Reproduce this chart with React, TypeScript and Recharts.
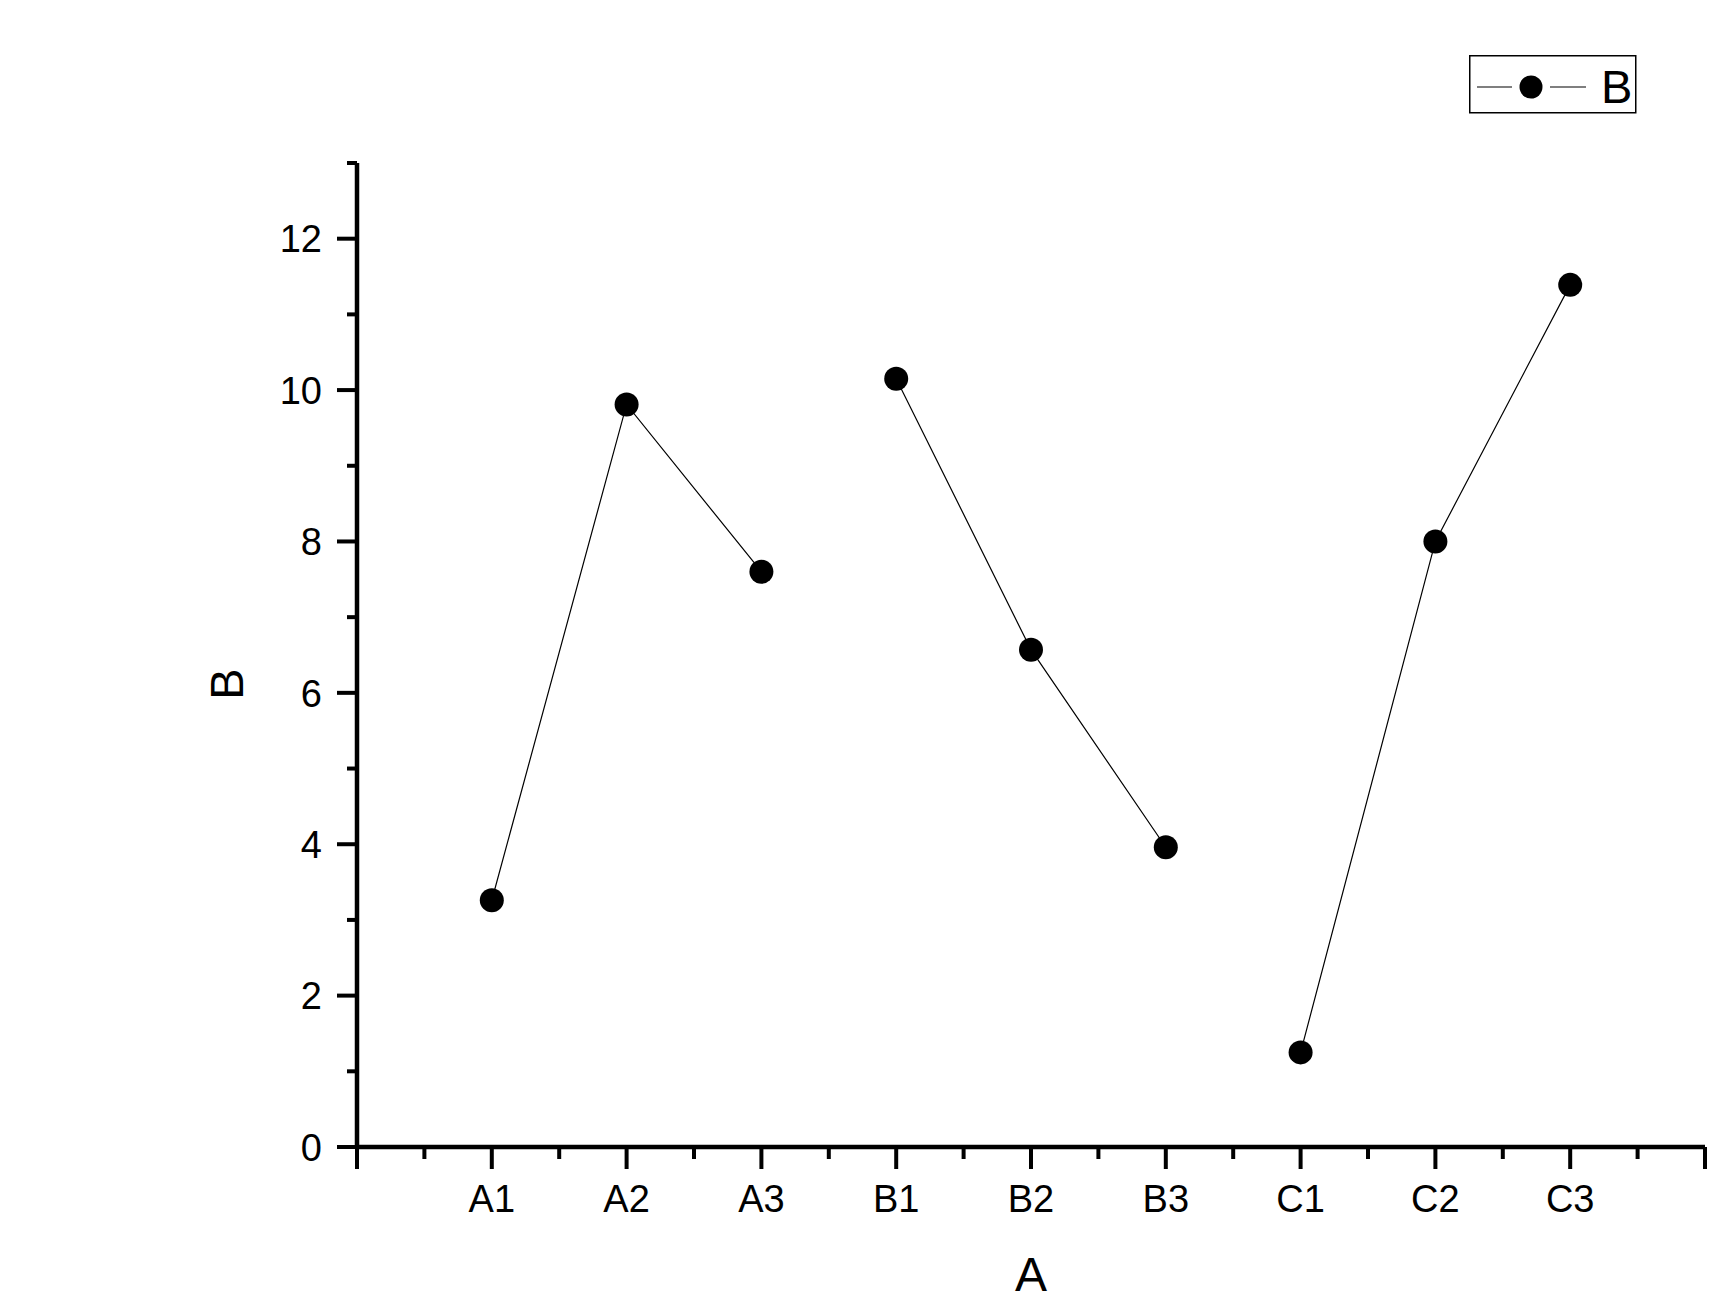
import React from 'react';
import { LineChart, Line, XAxis, YAxis, Legend } from 'recharts';

// categories along the x axis, placed at positions 1..9
const categories = ['A1', 'A2', 'A3', 'B1', 'B2', 'B3', 'C1', 'C2', 'C3'];
// measured B values for each category
const values = [3.26, 9.81, 7.6, 10.15, 6.57, 3.96, 1.25, 8.0, 11.39];
// groups: each group gets its own line so the segments break between groups
const groups = ['A', 'B', 'C'];
const seriesName = 'B';

const xTicks = [0, 0.5, 1, 1.5, 2, 2.5, 3, 3.5, 4, 4.5, 5, 5.5, 6, 6.5, 7, 7.5, 8, 8.5, 9, 9.5, 10];
const yTicks = [0, 1, 2, 3, 4, 5, 6, 7, 8, 9, 10, 11, 12, 13];

const FONT = '"Liberation Sans", Arial, sans-serif';

const data = categories.map((name, i) => {
  const row: Record<string, any> = { pos: i + 1, name };
  row[name.charAt(0)] = values[i];
  return row;
});

const XTick = (props: any) => {
  const { x, y, payload } = props;
  const v = payload.value;
  const major = Number.isInteger(v);
  const label = major && v >= 1 && v <= categories.length ? categories[v - 1] : null;
  return (
    <g>
      <line x1={x} x2={x} y1={y} y2={y + (major ? 22 : 12)} stroke="#000" strokeWidth={4} />
      {label && (
        <text x={x} y={y + 65} textAnchor="middle" fontSize={38} fontFamily={FONT} fill="#000">
          {label}
        </text>
      )}
    </g>
  );
};

const YTick = (props: any) => {
  const { x, y, payload } = props;
  const v = payload.value;
  const major = v % 2 === 0;
  return (
    <g>
      <line x1={x - (major ? 20 : 10)} x2={x} y1={y} y2={y} stroke="#000" strokeWidth={4} />
      {major && (
        <text x={x - 35} y={y} dy="0.36em" textAnchor="end" fontSize={38} fontFamily={FONT} fill="#000">
          {v}
        </text>
      )}
    </g>
  );
};

const LegendBox = (props: any) => {
  const items = (props.payload || []).filter((p: any) => p.type !== 'none');
  return (
    <div>
      {items.map((p: any) => (
        <svg key={p.value} width={168} height={59} style={{ display: 'block' }}>
          <rect x={0.75} y={0.75} width={166} height={57} fill="#fff" stroke="#000" strokeWidth={1.5} />
          <line x1={8} x2={43} y1={32} y2={32} stroke="#000" strokeWidth={1.2} />
          <circle cx={62} cy={32} r={11.5} fill="#000" />
          <line x1={81} x2={117} y1={32} y2={32} stroke="#000" strokeWidth={1.2} />
          <text x={132} y={48} fontSize={47} fontFamily={FONT} fill="#000">
            {p.value}
          </text>
        </svg>
      ))}
    </div>
  );
};

export default function App() {
  return (
    <div style={{ position: 'absolute', left: 0, top: 0, width: 1710, height: 1306, background: '#fff' }}>
      <LineChart width={1710} height={1306} data={data} margin={{ top: 163, right: 5, left: 157, bottom: 9 }}>
        <XAxis
          dataKey="pos"
          type="number"
          domain={[0, 10]}
          ticks={xTicks}
          interval={0}
          height={150}
          tickSize={0}
          tickMargin={0}
          tickLine={false}
          tick={<XTick />}
          axisLine={{ stroke: '#000', strokeWidth: 4.5 }}
          label={(p: any) => {
            const vb = p.viewBox;
            return (
              <text x={vb.x + vb.width / 2} y={vb.y + 144} textAnchor="middle" fontSize={48} fontFamily={FONT} fill="#000">
                A
              </text>
            );
          }}
        />
        <YAxis
          type="number"
          domain={[0, 13]}
          ticks={yTicks}
          interval={0}
          width={200}
          tickSize={0}
          tickMargin={0}
          tickLine={false}
          tick={<YTick />}
          axisLine={{ stroke: '#000', strokeWidth: 4.5 }}
          label={(p: any) => {
            const vb = p.viewBox;
            const cx = vb.x + vb.width - 131;
            const cy = 684;
            return (
              <text
                x={cx}
                y={cy}
                dy="0.36em"
                textAnchor="middle"
                fontSize={47}
                fontFamily={FONT}
                fill="#000"
                transform={`rotate(-90, ${cx}, ${cy})`}
              >
                B
              </text>
            );
          }}
        />
        <Legend
          layout="horizontal"
          verticalAlign="middle"
          align="center"
          content={<LegendBox />}
          wrapperStyle={{ position: 'absolute', top: 55, left: 1469, width: 'auto', margin: 0 }}
        />
        {groups.map((g, i) => (
          <Line
            key={g}
            type="linear"
            dataKey={g}
            name={seriesName}
            legendType={i === 0 ? 'circle' : 'none'}
            stroke="#000"
            strokeWidth={1.2}
            dot={{ r: 12, fill: '#000', stroke: '#000', strokeWidth: 0 }}
            activeDot={false}
            connectNulls={false}
            isAnimationActive={false}
          />
        ))}
      </LineChart>
    </div>
  );
}
